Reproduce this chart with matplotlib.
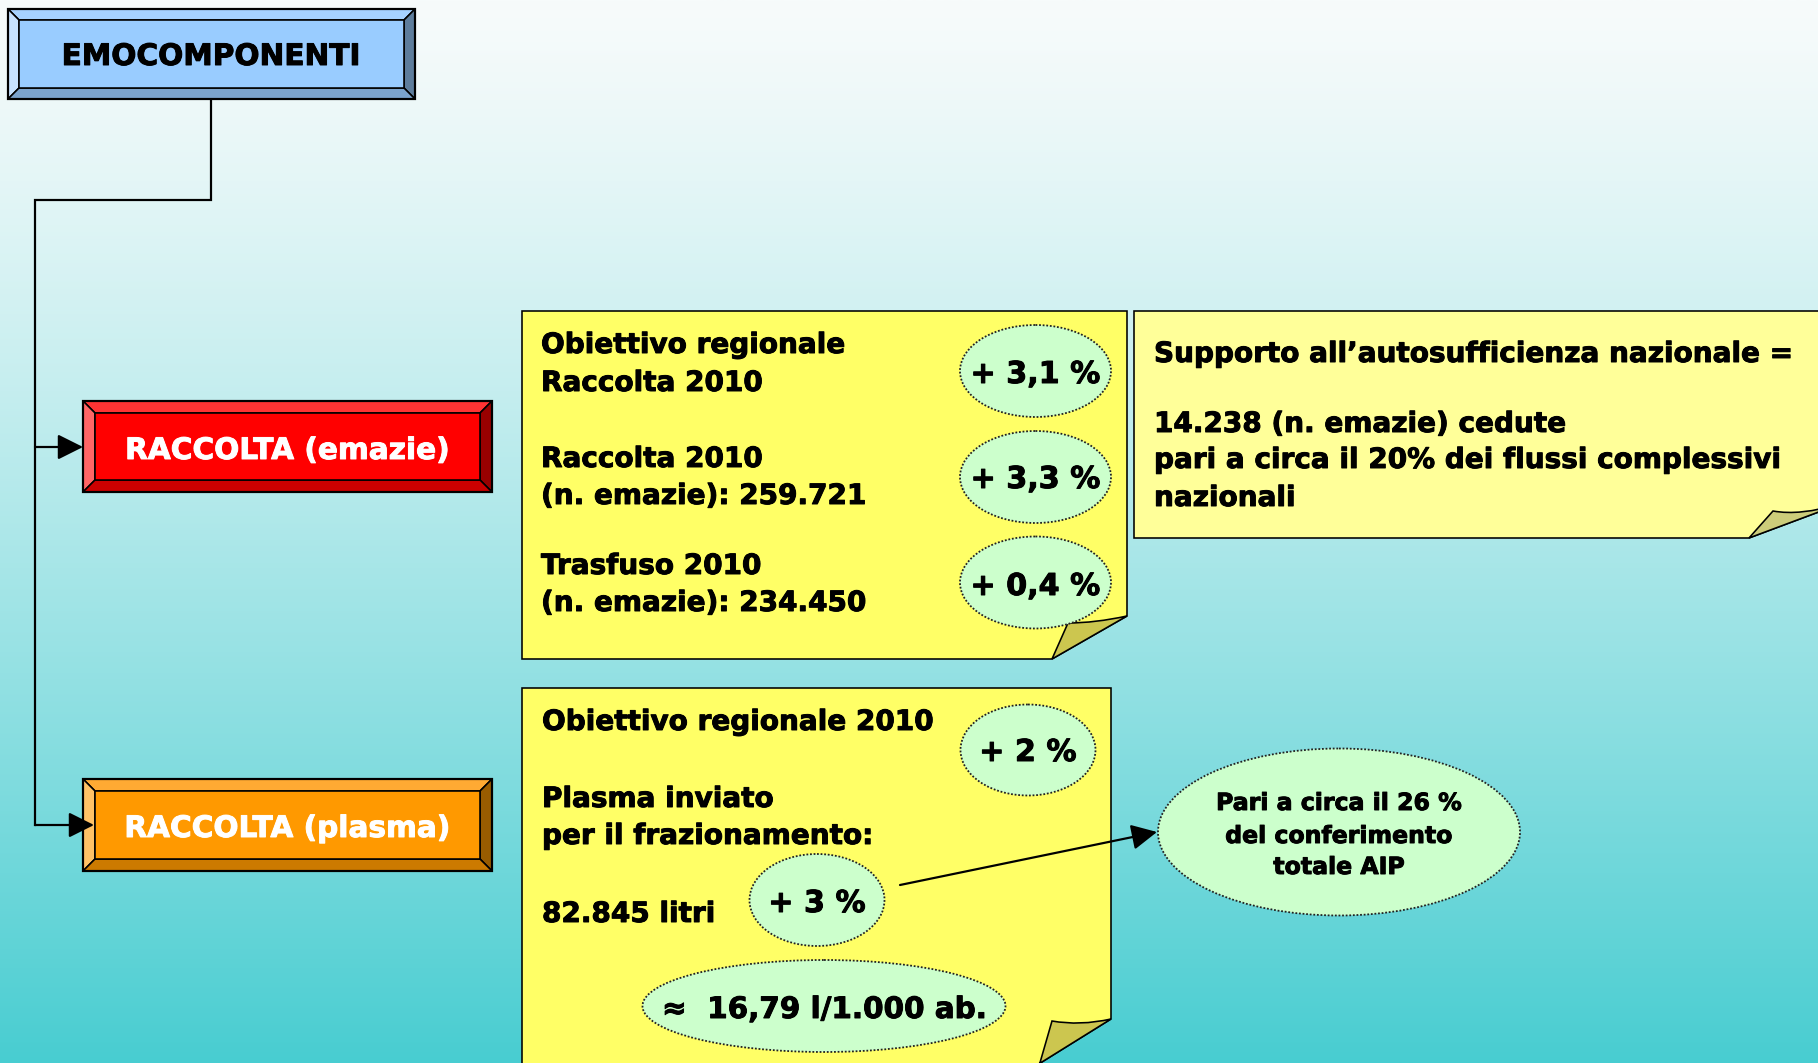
import numpy as np
import matplotlib.pyplot as plt
import matplotlib.patheffects as pe
from matplotlib.patches import Polygon, Ellipse, Rectangle, PathPatch
from matplotlib.path import Path

# ---- content ----
box_labels = ["EMOCOMPONENTI", "RACCOLTA (emazie)", "RACCOLTA (plasma)"]

emazie_lines = ["Obiettivo regionale", "Raccolta 2010",
                "Raccolta 2010", "(n. emazie): 259.721",
                "Trasfuso 2010", "(n. emazie): 234.450"]
emazie_pcts = ["+ 3,1 %", "+ 3,3 %", "+ 0,4 %"]

support_lines = ["Supporto all\u2019autosufficienza nazionale =",
                 "14.238 (n. emazie) cedute",
                 "pari a circa il 20% dei flussi complessivi",
                 "nazionali"]

plasma_lines = ["Obiettivo regionale 2010", "Plasma inviato",
                "per il frazionamento:", "82.845 litri"]
plasma_pcts = ["+ 2 %", "+ 3 %"]
plasma_rate = "\u2248  16,79 l/1.000 ab."
aip_lines = ["Pari a circa il 26 %", "del conferimento", "totale AIP"]

# ---- layout (pixels, y down) ----
W, H = 1818, 1063
PT = 0.72  # points per pixel at dpi 100

fig = plt.figure(figsize=(W / 100, H / 100), dpi=100)
ax = fig.add_axes([0, 0, 1, 1])
ax.set_xlim(0, W)
ax.set_ylim(H, 0)
ax.axis("off")

# background gradient
t = np.linspace(0, 1, 400)[:, None] ** 1.25
top = np.array([247, 251, 251]) / 255
bot = np.array([72, 205, 209]) / 255
grad = top + (bot - top) * t
grad = np.repeat(grad[:, None, :], 2, axis=1).reshape(400, 2, 3)
ax.imshow(grad, extent=[0, W, H, 0], aspect="auto", zorder=0)

FONT = "DejaVu Sans"


def heavy(color):
    return [pe.withStroke(linewidth=0.7, foreground=color)]


def bevel_box(x0, y0, x1, y1, b, face, ctop, cleft, cright, cbot, label, tcolor, ty):
    lw = 1.6 * PT
    ax.add_patch(Polygon([(x0, y0), (x1, y0), (x1 - b, y0 + b), (x0 + b, y0 + b)],
                         closed=True, fc=ctop, ec="black", lw=lw, zorder=3))
    ax.add_patch(Polygon([(x0, y0), (x0 + b, y0 + b), (x0 + b, y1 - b), (x0, y1)],
                         closed=True, fc=cleft, ec="black", lw=lw, zorder=3))
    ax.add_patch(Polygon([(x1, y0), (x1, y1), (x1 - b, y1 - b), (x1 - b, y0 + b)],
                         closed=True, fc=cright, ec="black", lw=lw, zorder=3))
    ax.add_patch(Polygon([(x0, y1), (x0 + b, y1 - b), (x1 - b, y1 - b), (x1, y1)],
                         closed=True, fc=cbot, ec="black", lw=lw, zorder=3))
    ax.add_patch(Rectangle((x0 + b, y0 + b), x1 - x0 - 2 * b, y1 - y0 - 2 * b,
                           fc=face, ec="black", lw=lw, zorder=3))
    ax.add_patch(Rectangle((x0, y0), x1 - x0, y1 - y0, fc="none", ec="black",
                           lw=2.2 * PT, zorder=4))
    ax.text((x0 + x1) / 2, ty, label, ha="center", va="baseline", fontsize=21.3,
            fontweight="bold", color=tcolor, family=FONT, zorder=5,
            path_effects=heavy(tcolor))


def note(x0, y0, x1, y1, xf, yf, ix, iy, cx, cy, face, flap, fx=None):
    lw = 1.6 * PT
    if fx is None:
        fx = xf
    ax.add_patch(Polygon([(x0, y0), (x1, y0), (x1, yf), (xf, y1), (x0, y1)],
                         closed=True, fc=face, ec="black", lw=lw, zorder=2))
    verts = [(fx, y1), (ix, iy), (cx, cy), (x1, yf), (xf, y1), (fx, y1)]
    codes = [Path.MOVETO, Path.LINETO, Path.CURVE3, Path.CURVE3, Path.LINETO, Path.CLOSEPOLY]
    ax.add_patch(PathPatch(Path(verts, codes), fc=flap, ec="black", lw=lw, zorder=2))


def bubble(xc, yc, w, h, label, size, ty):
    ax.add_patch(Ellipse((xc, yc), w, h, fc="#CCFFCC", ec="#222222", lw=1.8 * PT,
                         ls=(0, (1, 1)), zorder=6))
    if label:
        ax.text(xc, ty, label, ha="center", va="baseline", fontsize=size,
                fontweight="bold", color="black", family=FONT, zorder=7,
                path_effects=heavy("black"))


def arrow(x0, y0, x1, y1, z):
    ax.annotate("", xy=(x1, y1), xytext=(x0, y0),
                arrowprops=dict(arrowstyle="-|>,head_length=0.6,head_width=0.3",
                                color="black", lw=2.2 * PT, mutation_scale=26,
                                shrinkA=0, shrinkB=0), zorder=z)


# connectors
ax.plot([211, 211, 35, 35], [99, 200, 200, 825], color="black", lw=2.2 * PT, zorder=1,
        solid_joinstyle="miter")
arrow(35, 447, 83, 447, 1)
arrow(35, 825, 94, 825, 5)

# header boxes
bevel_box(8, 9, 415, 99, 11, "#99CCFF", "#A6D2FF", "#C8E3FF", "#5E7D9C", "#7BA3CC",
          box_labels[0], "black", 65)
bevel_box(83, 401, 492, 492, 12, "#FF0000", "#FF3333", "#FF6666", "#990000", "#CC0000",
          box_labels[1], "white", 459)
bevel_box(83, 779, 492, 871, 12, "#FF9900", "#FFAA33", "#FFC266", "#995C00", "#CC7A00",
          box_labels[2], "white", 837)

# notes
note(522, 311, 1127, 659, 1052, 616, 1068, 623, 1095, 623, "#FFFF66", "#CCC64F")
note(1134, 311, 1840, 538, 1749, 504, 1773, 511, 1800, 516, "#FFFF99", "#CCCC7A")
note(522, 688, 1111, 1080, 1013, 1019, 1052, 1021, 1080, 1026, "#FFFF66", "#CCC64F",
     fx=1035)

# emazie note text
body = dict(ha="left", va="baseline", fontsize=20.1, fontweight="bold",
            color="black", family=FONT, zorder=5, path_effects=heavy("black"))
for s, y in zip(emazie_lines, [353, 391, 467, 504, 574, 611]):
    ax.text(541, y, s, **body)
for s, yc, ty in zip(emazie_pcts, [371, 477, 582.5], [383, 488, 595]):
    bubble(1035.5, yc, 151, 92, s, 21.7, ty)

# support note text
for s, y in zip(support_lines, [362, 432, 468, 506]):
    ax.text(1154, y, s, **body)

# plasma note text
for s, y in zip(plasma_lines, [730, 807, 844, 922]):
    ax.text(542, y, s, **body)
bubble(1028, 750, 135, 91, plasma_pcts[0], 21.7, 761)
bubble(817, 900, 135, 92, plasma_pcts[1], 21.7, 912)
bubble(824, 1006, 363, 92, plasma_rate, 21.2, 1018)

# AIP bubble + arrow
arrow(900, 885, 1157, 832, 8)
bubble(1339, 832, 362, 167, "", 17, 0)
for s, y in zip(aip_lines, [810, 843, 874]):
    ax.text(1339, y, s, ha="center", va="baseline", fontsize=17, fontweight="bold",
            color="black", family=FONT, zorder=7, path_effects=heavy("black"))

fig.savefig("out.png", dpi=100)
